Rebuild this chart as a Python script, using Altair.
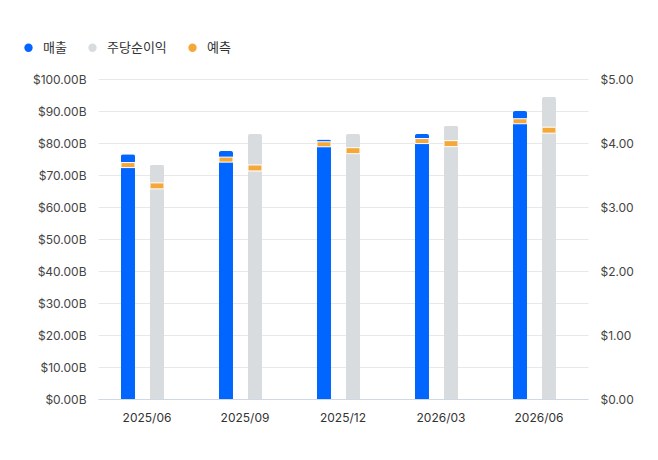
import altair as alt
import pandas as pd

periods = ["2025/06", "2025/09", "2025/12", "2026/03", "2026/06"]
revenue = [76.5, 77.5, 81.1, 82.8, 90.0]          # $B
revenue_fc = [73.1, 74.8, 79.6, 80.6, 86.8]       # $B
eps = [3.66, 4.14, 4.14, 4.27, 4.72]              # $
eps_fc = [3.33, 3.61, 3.88, 3.99, 4.20]           # $

series_names = ["매출", "주당순이익", "예측"]
colors = ["#0066ff", "#d9dcdf", "#f5a83a"]

rev_df = pd.DataFrame({"period": periods, "series": "매출", "value": revenue, "fc": revenue_fc})
eps_df = pd.DataFrame({"period": periods, "series": "주당순이익", "value": eps, "fc": eps_fc})

x_enc = alt.X("period:N", sort=periods, title=None,
              scale=alt.Scale(paddingInner=0, paddingOuter=0),
              axis=alt.Axis(labelAngle=0, ticks=False, domain=True, domainColor="#d0d8e8",
                            labelPadding=13, labelFontSize=12, labelColor="#333333",
                            labelFont="Inter", grid=False))
xoff = alt.XOffset("series:N",
                   scale=alt.Scale(domain=["매출", "주당순이익"], paddingInner=0.517,
                                   paddingOuter=0.948, align=0.418))
color_scale = alt.Scale(domain=series_names, range=colors)
legend = alt.Legend(orient="none", direction="horizontal", legendX=-76, legendY=-38,
                    title=None, symbolType="circle", symbolSize=70, labelOffset=8,
                    columnPadding=19, labelFont="Noto Sans CJK KR", labelFontSize=13,
                    labelColor="#333333", symbolStrokeWidth=0)

left_axis = alt.Axis(orient="left", values=list(range(0, 101, 10)), ticks=False,
                     domain=False, labelPadding=12, labelFontSize=12,
                     labelColor="#444444", labelFont="Inter", labelOverlap=False,
                     gridColor="#e8e8e8",
                     labelExpr="'$' + format(datum.value, '.2f') + 'B'")
right_axis = alt.Axis(orient="right", values=[0, 1, 2, 3, 4, 5], ticks=False,
                      domain=False, grid=False, labelPadding=12, labelFontSize=12,
                      labelColor="#444444", labelFont="Inter", labelOverlap=False,
                      format="$.2f")
left_scale = alt.Scale(domain=[0, 100], nice=False)
right_scale = alt.Scale(domain=[0, 5], nice=False)

rev_bar = alt.Chart(rev_df).mark_bar(cornerRadiusTopLeft=2, cornerRadiusTopRight=2).encode(
    x=x_enc, xOffset=xoff,
    y=alt.Y("value:Q", title=None, scale=left_scale, axis=left_axis),
    color=alt.Color("series:N", scale=color_scale, legend=legend))
rev_tick = alt.Chart(rev_df).mark_tick(thickness=5, size=14, stroke="white", strokeWidth=1,
                                       opacity=1).encode(
    x=x_enc, xOffset=xoff,
    y=alt.Y("fc:Q", title=None, scale=left_scale, axis=left_axis),
    color=alt.datum("예측"))

eps_bar = alt.Chart(eps_df).mark_bar(cornerRadiusTopLeft=2, cornerRadiusTopRight=2).encode(
    x=x_enc, xOffset=xoff,
    y=alt.Y("value:Q", title=None, scale=right_scale, axis=right_axis),
    color=alt.Color("series:N", scale=color_scale, legend=legend))
eps_tick = alt.Chart(eps_df).mark_tick(thickness=6, size=14, stroke="white", strokeWidth=1,
                                       opacity=1).encode(
    x=x_enc, xOffset=xoff,
    y=alt.Y("fc:Q", title=None, scale=right_scale, axis=right_axis),
    color=alt.datum("예측"))

left = alt.layer(rev_bar, rev_tick)
right = alt.layer(eps_bar, eps_tick)

chart = alt.layer(left, right).resolve_scale(y="independent").properties(
    width=490, height=320,
    background="white",
    autosize=alt.AutoSizeParams(type="none"),
    padding={"left": 90, "top": 71, "right": 62, "bottom": 45},
).configure_view(stroke=None)

chart.save("out.html", embed_options={"renderer": "svg", "actions": False})
